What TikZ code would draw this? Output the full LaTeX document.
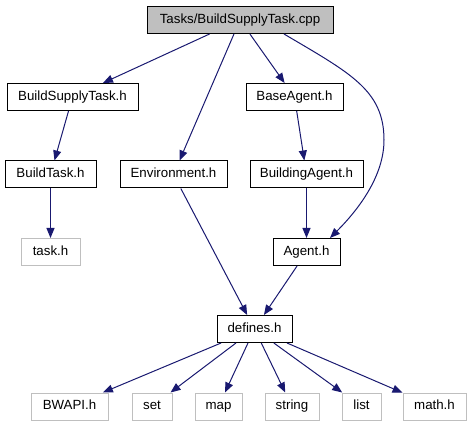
\documentclass[tikz,border=0pt]{standalone}
\usepackage{fontspec}
\setmainfont{Liberation Sans}
\usetikzlibrary{arrows.meta}
\definecolor{edgec}{HTML}{191970}
\definecolor{greyb}{HTML}{BFBFBF}
\begin{document}
\begin{tikzpicture}[x=1pt,y=-1pt,
  box/.style={draw=black,line width=1pt,minimum height=27pt,inner sep=0pt,
    text height=9.6pt,text depth=2.8pt,font=\fontsize{13.3}{16}\selectfont,text=black},
  ghost/.style={box,draw=greyb},
  root/.style={box,fill=greyb},
  edge/.style={draw=edgec,line width=1pt,-{Triangle[length=10pt,width=8pt]}}]
\useasboundingbox (0,0) rectangle (471,427);
% nodes
\node[root,minimum width=186pt] (cpp) at (240,20) {Tasks/BuildSupplyTask.cpp};
\node[box,minimum width=131pt] (bst) at (72.5,97) {BuildSupplyTask.h};
\node[box,minimum width=97pt] (base) at (294.5,97) {BaseAgent.h};
\node[box,minimum width=91pt] (bt) at (50.5,174.5) {BuildTask.h};
\node[box,minimum width=107pt] (env) at (173.5,174.5) {Environment.h};
\node[box,minimum width=113pt] (bldg) at (306.5,174.5) {BuildingAgent.h};
\node[ghost,minimum width=59pt] (task) at (50.5,252) {task.h};
\node[box,minimum width=67pt] (agent) at (306.5,252) {Agent.h};
\node[box,minimum width=75pt] (def) at (254.5,329) {defines.h};
\node[ghost,minimum width=77pt] (bwapi) at (69.5,406.5) {BWAPI.h};
\node[ghost,minimum width=40pt] (set) at (152,406.5) {set};
\node[ghost,minimum width=47pt] (map) at (218.5,406.5) {map};
\node[ghost,minimum width=54pt] (string) at (292,406.5) {string};
\node[ghost,minimum width=39pt] (list) at (361.5,406.5) {list};
\node[ghost,minimum width=63pt] (math) at (434.5,406.5) {math.h};
% edges
\draw[edge] (cpp) -- (bst);
\draw[edge] (cpp) -- (env);
\draw[edge] (cpp) -- (base);
\draw[edge] ([xshift=44pt]cpp.south) .. controls (350,73) and (384,90) .. (384,140)
  .. controls (384,175) and (360,208) .. ([xshift=23.5pt]agent.north);
\draw[edge] (bst) -- (bt);
\draw[edge] (bt) -- (task);
\draw[edge] (base) -- (bldg);
\draw[edge] (bldg) -- (agent);
\draw[edge] (env) -- (def);
\draw[edge] (agent) -- (def);
\draw[edge] (def) -- (bwapi);
\draw[edge] (def) -- (set);
\draw[edge] (def) -- (map);
\draw[edge] (def) -- (string);
\draw[edge] (def) -- (list);
\draw[edge] (def) -- (math);
\end{tikzpicture}
\end{document}
